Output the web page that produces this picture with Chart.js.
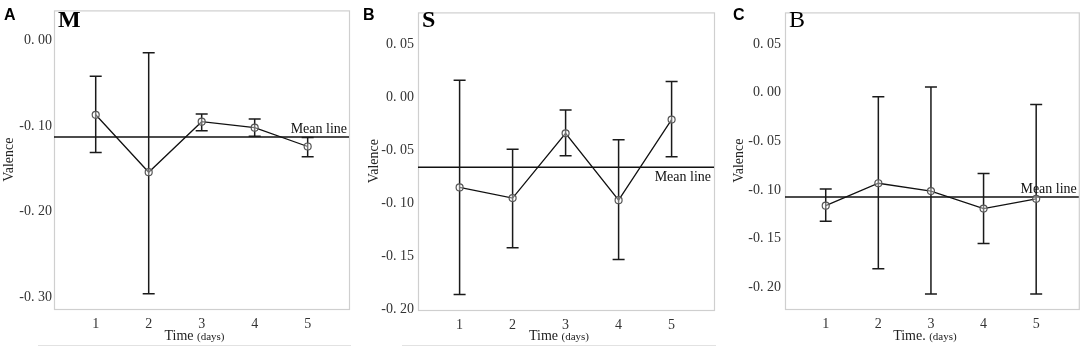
<!DOCTYPE html>
<html>
<head>
<meta charset="utf-8">
<script src="https://cdn.jsdelivr.net/npm/chart.js@4/dist/chart.umd.min.js"></script>
<style>
  html, body { margin: 0; padding: 0; background: #fff; }
  #wrap { position: relative; width: 1084px; height: 349px; overflow: hidden; }
  .panel { position: absolute; top: 0; height: 349px; width: 362px; }
</style>
</head>
<body>
<div id="wrap">
  <div class="panel" style="left:0px"><canvas id="chart_m"></canvas></div>
  <div class="panel" style="left:362px"><canvas id="chart_s"></canvas></div>
  <div class="panel" style="left:722px"><canvas id="chart_b"></canvas></div>
</div>
<script>
// x categories (days)
var days = [1, 2, 3, 4, 5];

// panel A (M)
var mMean = [-0.087, -0.154, -0.095, -0.102, -0.124];
var mLow  = [-0.131, -0.296, -0.1055, -0.112, -0.136];
var mHigh = [-0.042, -0.0145, -0.086, -0.092, -0.1135];
var mMeanLine = -0.113;

// panel B (S)
var sMean = [-0.085, -0.095, -0.034, -0.097, -0.021];
var sLow  = [-0.186, -0.142, -0.055, -0.153, -0.056];
var sHigh = [0.016, -0.049, -0.012, -0.040, 0.015];
var sMeanLine = -0.066;

// panel C (B)
var bMean = [-0.116, -0.093, -0.101, -0.119, -0.109];
var bLow  = [-0.132, -0.181, -0.207, -0.155, -0.207];
var bHigh = [-0.099, -0.004, 0.006, -0.083, -0.012];
var bMeanLine = -0.107;

var serif = '"Liberation Serif", "DejaVu Serif", serif';

function fmtTick(v) {
    var r = Math.round(v * 100) / 100;
    var s = Math.abs(r).toFixed(2).replace('.', '. ');
    return (r < 0 ? '-' : '') + s;
}

var panelPlugin = {
    id: 'panelPlugin',
    beforeDraw: function(chart) {
        var ctx = chart.ctx;
        ctx.save();
        ctx.fillStyle = 'white';
        ctx.fillRect(0, 0, chart.width, chart.height);
        ctx.restore();
    },
    beforeDatasetsDraw: function(chart, args, o) {
        var ctx = chart.ctx, a = chart.chartArea;
        var xs = chart.scales.x, ys = chart.scales.y;
        ctx.save();
        // frame
        ctx.strokeStyle = '#cfcfcf';
        ctx.lineWidth = 1.2;
        ctx.strokeRect(a.left + 0.5, a.top + 0.5, a.right - a.left, a.bottom - a.top);
        if (o.baseLine) {
            ctx.beginPath();
            ctx.moveTo(a.left - 16, 345.5);
            ctx.lineTo(a.right + 2, 345.5);
            ctx.strokeStyle = '#e2e2e2';
            ctx.stroke();
        }
        // mean line
        var my = ys.getPixelForValue(o.meanLine);
        ctx.beginPath();
        ctx.moveTo(a.left, my);
        ctx.lineTo(a.right, my);
        ctx.strokeStyle = '#111';
        ctx.lineWidth = 1.5;
        ctx.stroke();
        // error bars
        ctx.strokeStyle = '#1a1a1a';
        ctx.lineWidth = 1.5;
        for (var i = 0; i < o.days.length; i++) {
            var x = xs.getPixelForValue(o.days[i]);
            var y1 = ys.getPixelForValue(o.low[i]);
            var y2 = ys.getPixelForValue(o.high[i]);
            ctx.beginPath();
            ctx.moveTo(x, y1); ctx.lineTo(x, y2);
            ctx.moveTo(x - 6, y1); ctx.lineTo(x + 6, y1);
            ctx.moveTo(x - 6, y2); ctx.lineTo(x + 6, y2);
            ctx.stroke();
        }
        // mean line label
        ctx.fillStyle = '#111';
        ctx.font = '14px ' + serif;
        ctx.textAlign = 'right';
        if (o.labelBelow) {
            ctx.textBaseline = 'top';
            ctx.fillText('Mean line', a.right - 3, my + 3);
        } else {
            ctx.textBaseline = 'bottom';
            ctx.fillText('Mean line', a.right - 2, my - 1);
        }
        ctx.restore();
    },
    afterDraw: function(chart, args, o) {
        var ctx = chart.ctx, a = chart.chartArea;
        ctx.save();
        // panel letter
        ctx.fillStyle = '#000';
        ctx.font = 'bold 16px "Liberation Sans", Arial, sans-serif';
        ctx.textAlign = 'left';
        ctx.textBaseline = 'alphabetic';
        ctx.fillText(o.letter, o.letterX, 20);
        // group name in the corner
        ctx.font = (o.nameBold ? 'bold ' : '') + '24px ' + serif;
        ctx.fillText(o.name, a.left + 4, 27);
        // y title
        ctx.font = '14px ' + serif;
        ctx.fillStyle = '#222';
        ctx.save();
        ctx.translate(o.yTitleX, (a.top + a.bottom) / 2);
        ctx.rotate(-Math.PI / 2);
        ctx.textAlign = 'center';
        ctx.textBaseline = 'middle';
        ctx.fillText('Valence', 0, 0);
        ctx.restore();
        // x title, "(days)" smaller
        var t1 = o.xTitle, t2 = '(days)';
        ctx.font = '14px ' + serif;
        var w1 = ctx.measureText(t1).width;
        ctx.font = '11px ' + serif;
        var w2 = ctx.measureText(t2).width;
        var cx = (a.left + a.right) / 2 - 7;
        var sx = cx - (w1 + w2) / 2;
        ctx.textAlign = 'left';
        ctx.textBaseline = 'alphabetic';
        ctx.font = '14px ' + serif;
        ctx.fillText(t1, sx, 340);
        ctx.font = '11px ' + serif;
        ctx.fillText(t2, sx + w1, 340);
        ctx.restore();
    }
};

function makePanel(id, cfg) {
    return new Chart(document.getElementById(id), {
        type: 'line',
        data: {
            datasets: [{
                label: cfg.name,
                data: days.map(function(d, i) { return {x: d, y: cfg.mean[i]}; }),
                borderColor: '#111',
                borderWidth: 1.3,
                pointRadius: 3.5,
                pointBorderWidth: 1.2,
                pointBorderColor: '#555',
                pointBackgroundColor: 'rgba(255,255,255,0.4)',
                tension: 0
            }]
        },
        options: {
            animation: false,
            responsive: true,
            maintainAspectRatio: false,
            layout: { padding: { left: 0, right: cfg.padRight, top: 4, bottom: 0 } },
            plugins: {
                legend: { display: false },
                tooltip: { enabled: false },
                panelPlugin: {
                    days: days, low: cfg.low, high: cfg.high, meanLine: cfg.meanLine,
                    labelBelow: cfg.labelBelow, letter: cfg.letter, letterX: cfg.letterX,
                    name: cfg.name, nameBold: cfg.nameBold, yTitleX: cfg.yTitleX,
                    xTitle: cfg.xTitle, baseLine: cfg.baseLine
                }
            },
            scales: {
                x: {
                    type: 'linear',
                    min: cfg.xMin,
                    max: cfg.xMax,
                    grid: { display: false, drawTicks: false },
                    border: { display: false },
                    ticks: {
                        stepSize: 1,
                        includeBounds: false,
                        padding: 7,
                        color: '#333',
                        font: { family: serif, size: 14 }
                    },
                    afterFit: function(s) { s.height = 349 - cfg.plotBottom; }
                },
                y: {
                    type: 'linear',
                    min: cfg.yMin,
                    max: cfg.yMax,
                    grid: { display: false, drawTicks: false },
                    border: { display: false },
                    ticks: {
                        stepSize: cfg.step,
                        includeBounds: false,
                        padding: cfg.tickPad,
                        color: '#333',
                        font: { family: serif, size: 14 },
                        callback: function(v) { return fmtTick(v); }
                    },
                    afterFit: function(s) { s.width = cfg.plotLeft; }
                }
            }
        },
        plugins: [panelPlugin]
    });
}

var chart_m = makePanel('chart_m', {
    name: 'M', nameBold: true, letter: 'A', letterX: 4,
    mean: mMean, low: mLow, high: mHigh, meanLine: mMeanLine, labelBelow: false,
    xMin: 0.213, xMax: 5.78, yMin: -0.3137, yMax: 0.0349, step: 0.1,
    plotLeft: 54, plotBottom: 309, padRight: 13, tickPad: 2, yTitleX: 9,
    xTitle: 'Time ', baseLine: true
});

var chart_s = makePanel('chart_s', {
    name: 'S', nameBold: true, letter: 'B', letterX: 1,
    mean: sMean, low: sLow, high: sHigh, meanLine: sMeanLine, labelBelow: true,
    xMin: 0.215, xMax: 5.8, yMin: -0.2006, yMax: 0.0801, step: 0.05,
    plotLeft: 56, plotBottom: 310, padRight: 10, tickPad: 4, yTitleX: 12,
    xTitle: 'Time ', baseLine: true
});

var chart_b = makePanel('chart_b', {
    name: 'B', nameBold: false, letter: 'C', letterX: 11,
    mean: bMean, low: bLow, high: bHigh, meanLine: bMeanLine, labelBelow: false,
    xMin: 0.226, xMax: 5.81, yMin: -0.2223, yMax: 0.0827, step: 0.05,
    plotLeft: 63, plotBottom: 309, padRight: 3, tickPad: 4, yTitleX: 17,
    xTitle: 'Time. ', baseLine: false
});
</script>
</body>
</html>
